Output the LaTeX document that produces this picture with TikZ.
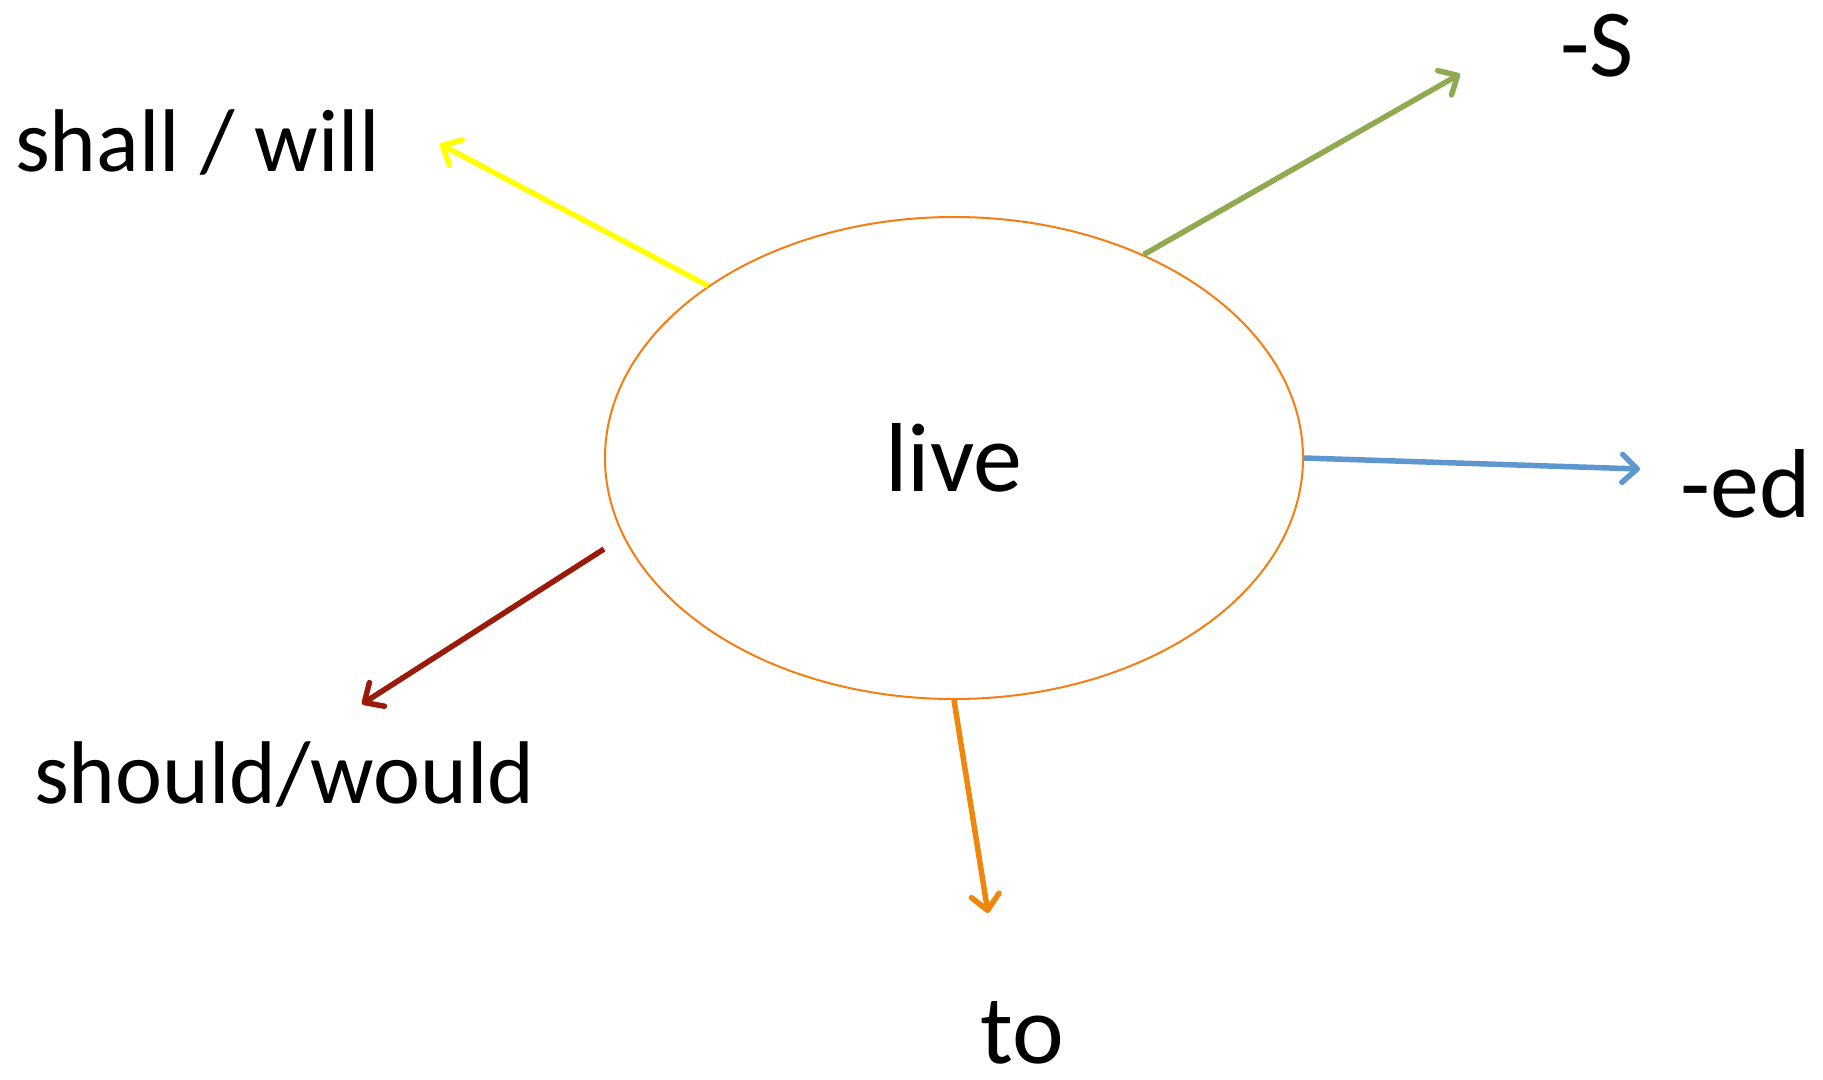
\documentclass[tikz,border=0pt]{standalone}
\usepackage{fontspec}
\setmainfont{Carlito}
\usetikzlibrary{arrows.meta}
\usetikzlibrary{shapes.geometric}

\definecolor{ovalorange}{HTML}{F57E14}
\definecolor{willyellow}{HTML}{FFFF00}
\definecolor{sgreen}{HTML}{8FAA4F}
\definecolor{edblue}{HTML}{5E97CF}
\definecolor{woulddred}{HTML}{9B1B0B}
\definecolor{toorange}{HTML}{EE870C}

\tikzset{
  bigword/.style={font=\fontsize{98pt}{110pt}\selectfont, inner sep=0pt},
  smallword/.style={font=\fontsize{89pt}{100pt}\selectfont, inner sep=0pt},
  branch/.style={line width=5.5pt, -{Straight Barb[length=15pt,width=28pt,round]}}
}

\begin{document}
\begin{tikzpicture}[x=1pt,y=-1pt]
\useasboundingbox (0,0) rectangle (1823,1079);

\node (live) at (954,458) [ellipse, draw=ovalorange, line width=2pt,
  minimum width=698pt, minimum height=482pt, inner sep=0pt, bigword] {live};

\node (will) at (15,171) [anchor=base west, smallword] {shall / will};
\node (s) at (1560,76) [anchor=base west, font=\fontsize{96pt}{100pt}\selectfont, inner sep=0pt] {-S};
\node (ed) at (1680,517) [anchor=base west, bigword] {-ed};
\node (would) at (34,803) [anchor=base west, smallword] {should/would};
\node (to) at (1022,1063) [anchor=base, bigword] {to};

\coordinate (willtip) at (440,144);
\coordinate (stip) at (1460,74);
\coordinate (edtip) at (1640,469);
\coordinate (wouldstart) at (604,549);
\coordinate (wouldtip) at (362,704);
\coordinate (totip) at (988,913);

\draw[branch, willyellow] (live.145.5) -- (willtip);
\draw[branch, sgreen] (live.47.3) -- (stip);
\draw[branch, edblue] (live.east) -- (edtip);
\draw[branch, woulddred] (wouldstart) -- (wouldtip);
\draw[branch, toorange] (live.south) -- (totip);

\end{tikzpicture}
\end{document}
